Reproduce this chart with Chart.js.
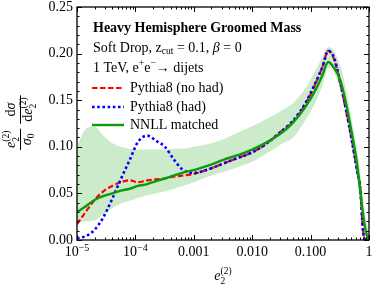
<!DOCTYPE html>
<html>
<head>
<meta charset="utf-8">
<script src="https://cdn.jsdelivr.net/npm/chart.js@4.4.1/dist/chart.umd.min.js"></script>
<style>html,body{margin:0;padding:0;background:#fff}</style>
</head>
<body>
<canvas id="c" width="374" height="286"></canvas>
<script>
// e2^(2) sample points (log spaced)
const eVals = [1e-5, 1.4e-5, 2e-5, 2.8e-5, 4e-5, 5.6e-5, 8e-5, 1.1e-4, 1.6e-4, 2.2e-4, 3.2e-4, 4.5e-4, 6.3e-4,
  0.001, 0.0018, 0.0032, 0.0056, 0.01, 0.018, 0.032, 0.05, 0.08, 0.126, 0.16, 0.2, 0.25, 0.32, 0.4, 0.5, 0.63, 0.71, 0.79, 0.89, 1.0];
const noHad = [0.017, 0.030, 0.043, 0.052, 0.058, 0.062, 0.064, 0.062, 0.064, 0.065, 0.066, 0.068, 0.069,
  0.071, 0.076, 0.082, 0.088, 0.094, 0.104, 0.117, 0.127, 0.145, 0.170, 0.186, 0.203, 0.195, 0.169, 0.140, 0.110, 0.074, 0.054, 0.010, 0.0, 0.0];
const had = [0.002, 0.004, 0.011, 0.024, 0.044, 0.065, 0.086, 0.105, 0.112, 0.107, 0.100, 0.087, 0.076,
  0.072, 0.076, 0.082, 0.088, 0.094, 0.104, 0.117, 0.128, 0.146, 0.171, 0.186, 0.203, 0.196, 0.170, 0.141, 0.109, 0.073, 0.054, 0.010, 0.0, 0.0];
const nnll = [0.030, 0.036, 0.043, 0.047, 0.050, 0.053, 0.055, 0.058, 0.060, 0.063, 0.066, 0.069, 0.072,
  0.075, 0.080, 0.086, 0.091, 0.097, 0.105, 0.115, 0.126, 0.142, 0.163, 0.177, 0.191, 0.185, 0.172, 0.148, 0.117, 0.080, 0.052, 0.028, 0.008, 0.0];
const bandHi = [0.100, 0.119, 0.122, 0.112, 0.104, 0.100, 0.098, 0.097, 0.097, 0.097, 0.097, 0.098, 0.098,
  0.100, 0.103, 0.108, 0.115, 0.122, 0.130, 0.139, 0.147, 0.162, 0.184, 0.197, 0.207, 0.203, 0.188, 0.163, 0.130, 0.094, 0.072, 0.045, 0.022, 0.008];
const bandLo = [0.019, 0.020, 0.021, 0.027, 0.034, 0.039, 0.042, 0.045, 0.048, 0.050, 0.052, 0.055, 0.058,
  0.062, 0.068, 0.073, 0.078, 0.084, 0.093, 0.103, 0.110, 0.128, 0.150, 0.166, 0.185, 0.180, 0.162, 0.135, 0.102, 0.065, 0.045, 0.018, 0.003, 0.0];

const yTicks = [0, 0.05, 0.10, 0.15, 0.20, 0.25];
const yTickLabels = ['0.00', '0.05', '0.10', '0.15', '0.20', '0.25'];
const xTicks = [1e-5, 1e-4, 1e-3, 1e-2, 1e-1, 1];
const xTickLabels = [['10', '−5'], ['10', '−4'], ['0.001'], ['0.010'], ['0.100'], ['1']];

const SERIF = '"Liberation Serif", "Times New Roman", serif';
const F = (size, style = '') => `${style} ${size}px ${SERIF}`;
const pts = ys => eVals.map((x, i) => ({ x, y: ys[i] }));

const RED = '#ff0000', BLUE = '#0000ff', GREEN = '#0a9a0a';

// draw a row of text pieces, returns end x
function runs(ctx, x, y, parts) {
  for (const p of parts) {
    ctx.font = p.f;
    ctx.fillText(p.t, x, y + (p.dy || 0));
    if (p.adv !== false) x += ctx.measureText(p.t).width;
  }
  return x;
}
const e22 = s => [
  { t: 'e', f: F(s, 'italic') },
  { t: '2', f: F(s * 0.68), dy: s * 0.27, adv: false },
  { t: '(2)', f: F(s * 0.68), dy: -s * 0.42 }
];
const width = (ctx, parts) => {
  let w = 0;
  for (const p of parts) { ctx.font = p.f; if (p.adv !== false) w += ctx.measureText(p.t).width; }
  return w;
};

const frame = {
  id: 'frame',
  afterDatasetsDraw(chart) {
    const { ctx, chartArea: a, scales: { x, y } } = chart;
    ctx.save();
    ctx.strokeStyle = '#000';
    ctx.fillStyle = '#000';
    ctx.lineWidth = 1;

    // y ticks, both sides
    for (let k = 0; k <= 25; k++) {
      const py = Math.round(y.getPixelForValue(k / 100)) + 0.5;
      const len = k % 5 === 0 ? 5 : 2.5;
      ctx.beginPath();
      ctx.moveTo(a.left, py); ctx.lineTo(a.left + len, py);
      ctx.moveTo(a.right, py); ctx.lineTo(a.right - len, py);
      ctx.stroke();
    }
    // x ticks, bottom and top
    for (let d = -5; d <= 0; d++) {
      for (let m = 1; m <= 9; m++) {
        const v = m * Math.pow(10, d);
        if (v > 1) break;
        const px = Math.round(x.getPixelForValue(v)) + 0.5;
        const len = m === 1 ? 5 : 2.5;
        ctx.beginPath();
        ctx.moveTo(px, a.bottom); ctx.lineTo(px, a.bottom - len);
        ctx.moveTo(px, a.top); ctx.lineTo(px, a.top + len);
        ctx.stroke();
      }
    }
    ctx.lineWidth = 1.3;
    ctx.strokeRect(a.left, a.top, a.right - a.left, a.bottom - a.top);

    // tick labels
    ctx.font = F(14);
    ctx.textAlign = 'right';
    ctx.textBaseline = 'middle';
    yTicks.forEach((v, i) => ctx.fillText(yTickLabels[i], a.left - 4, y.getPixelForValue(v)));
    ctx.textAlign = 'left';
    ctx.textBaseline = 'alphabetic';
    xTicks.forEach((v, i) => {
      const lab = xTickLabels[i];
      const parts = [{ t: lab[0], f: F(14) }];
      if (lab[1]) parts.push({ t: lab[1], f: F(10), dy: -5 });
      const w = width(ctx, parts);
      runs(ctx, x.getPixelForValue(v) - w / 2, 256, parts);
    });

    // axis titles
    const xt = e22(14);
    runs(ctx, (a.left + a.right) / 2 - width(ctx, xt) / 2, 280, xt);

    ctx.save();
    ctx.translate(20, 150);
    ctx.rotate(-Math.PI / 2);
    ctx.lineWidth = 1;
    // first fraction: e2(2) / sigma0
    const n1 = e22(14), d1 = [{ t: 'σ', f: F(14, 'italic') }, { t: '0', f: F(9.5), dy: 3 }];
    const w1 = Math.max(width(ctx, n1), width(ctx, d1)) + 4;
    runs(ctx, (w1 - width(ctx, n1)) / 2, -5, n1);
    runs(ctx, (w1 - width(ctx, d1)) / 2, 11, d1);
    ctx.beginPath(); ctx.moveTo(0, 0.5); ctx.lineTo(w1, 0.5); ctx.stroke();
    // second fraction: d sigma / d e2(2)
    const x2 = w1 + 5;
    const n2 = [{ t: 'd', f: F(14) }, { t: 'σ', f: F(14, 'italic') }];
    const d2 = [{ t: 'd', f: F(14) }].concat(e22(14));
    const w2 = Math.max(width(ctx, n2), width(ctx, d2)) + 4;
    runs(ctx, x2 + (w2 - width(ctx, n2)) / 2, -5, n2);
    runs(ctx, x2 + (w2 - width(ctx, d2)) / 2, 12, d2);
    ctx.beginPath(); ctx.moveTo(x2, 0.5); ctx.lineTo(x2 + w2, 0.5); ctx.stroke();
    ctx.restore();

    // legend block
    const lx = 93;
    ctx.textBaseline = 'middle';
    runs(ctx, lx, 28, [{ t: 'Heavy Hemisphere Groomed Mass', f: F(14, 'bold') }]);
    runs(ctx, lx, 48, [
      { t: 'Soft Drop, z', f: F(14) }, { t: 'cut', f: F(9.5), dy: 3 },
      { t: ' = 0.1, ', f: F(14) }, { t: 'β', f: F(14, 'italic') }, { t: ' = 0', f: F(14) }
    ]);
    runs(ctx, lx, 68, [
      { t: '1 TeV, e', f: F(14) }, { t: '+', f: F(9.5), dy: -5 },
      { t: 'e', f: F(14) }, { t: '−', f: F(9.5), dy: -5 }, { t: '→ dijets', f: F(14) }
    ]);
    const entries = [
      ['Pythia8 (no had)', RED, [5.5, 2.5], 2.2, 88],
      ['Pythia8 (had)', BLUE, [2.6, 2.6], 2.6, 107],
      ['NNLL matched', GREEN, [], 2.4, 125]
    ];
    entries.forEach(([t, c, dash, lw, ly]) => {
      ctx.strokeStyle = c; ctx.lineWidth = lw; ctx.setLineDash(dash);
      ctx.beginPath(); ctx.moveTo(92, ly); ctx.lineTo(124, ly); ctx.stroke();
      ctx.setLineDash([]);
      ctx.fillStyle = '#000';
      runs(ctx, 130, ly, [{ t, f: F(14) }]);
    });
    ctx.restore();
  }
};

new Chart(document.getElementById('c'), {
  type: 'scatter',
  data: {
    datasets: [
      { label: 'band lo', data: pts(bandLo), showLine: true, borderWidth: 0, borderColor: 'rgba(0,0,0,0)', fill: false, order: 5 },
      { label: 'band hi', data: pts(bandHi), showLine: true, borderWidth: 0, borderColor: 'rgba(0,0,0,0)',
        fill: '-1', backgroundColor: 'rgba(20,165,20,0.22)', order: 4 },
      { label: 'Pythia8 (no had)', data: pts(noHad), showLine: true, borderColor: RED, borderDash: [5.5, 2.5], borderWidth: 2.2, order: 3 },
      { label: 'Pythia8 (had)', data: pts(had), showLine: true, borderColor: BLUE, borderDash: [2.6, 2.6], borderWidth: 2.6, order: 2 },
      { label: 'NNLL matched', data: pts(nnll), showLine: true, borderColor: GREEN, borderWidth: 2.4, order: 1 }
    ]
  },
  options: {
    responsive: false,
    animation: false,
    layout: { padding: { left: 77, right: 5, top: 7, bottom: 46 } },
    plugins: { legend: { display: false }, tooltip: { enabled: false } },
    elements: { point: { radius: 0 }, line: { cubicInterpolationMode: 'monotone' } },
    scales: {
      x: { type: 'logarithmic', min: 1e-5, max: 1, display: false },
      y: { min: 0, max: 0.25, display: false }
    }
  },
  plugins: [frame]
});
</script>
</body>
</html>
